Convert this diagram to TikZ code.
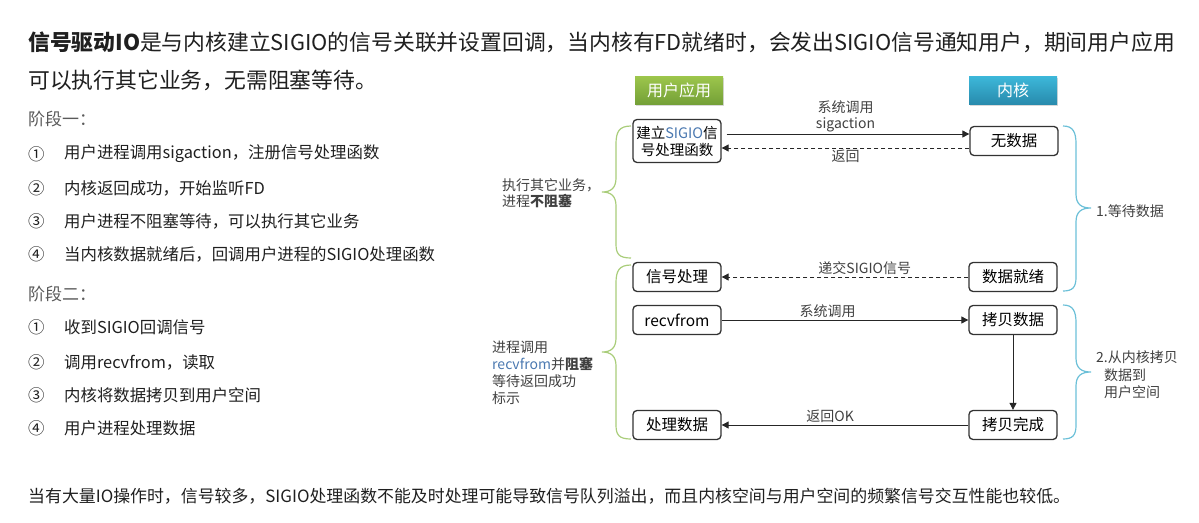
\documentclass[tikz,border=0pt]{standalone}
\usepackage{fontspec}
\setmainfont{Noto Sans CJK SC}
\usepackage{xcolor}
\usepackage{tikz}
\usetikzlibrary{positioning}
\usetikzlibrary{arrows.meta,shadows}
\definecolor{usertop}{HTML}{9DC64C}
\definecolor{userbot}{HTML}{74A037}
\definecolor{kerntop}{HTML}{3DB8DA}
\definecolor{kernbot}{HTML}{288BAD}
\definecolor{bracegreen}{HTML}{A9CD7A}
\definecolor{braceblue}{HTML}{6CC0D8}
\definecolor{labelgray}{HTML}{404040}
\definecolor{stagegray}{HTML}{5A5A5A}
\definecolor{sigblue}{HTML}{4A78B0}
\tikzset{>={Triangle[length=7pt,width=7pt]}}

\begin{document}
\begin{tikzpicture}[x=1pt,y=-1pt,
  txt/.style={inner sep=0pt, anchor=west, text=black!88},
  head/.style={minimum width=88pt, minimum height=28pt, inner sep=0pt, text=white,
    font=\fontsize{16}{18}\selectfont,
    drop shadow={opacity=0.3, shadow xshift=1pt, shadow yshift=-2pt}},
  box/.style={draw=black!80, line width=1.3pt, rounded corners=4pt, fill=white,
    minimum width=88pt, minimum height=29pt, inner sep=1pt,
    font=\fontsize{15.5}{17}\selectfont},
  lbl/.style={text=labelgray, font=\fontsize{14}{16}\selectfont, inner sep=2pt},
  link/.style={->, line width=0.9pt, black!85},
  back/.style={->, line width=0.9pt, black!85, dashed, dash pattern=on 4pt off 3pt},
  curl/.style={line width=1.2pt}]

\useasboundingbox (0,0) rectangle (1199,522);

% Intro paragraph
\node[txt, font=\fontsize{21.8}{24}\selectfont] (intro1) at (28,42)
  {\textbf{信号驱动IO}是与内核建立SIGIO的信号关联并设置回调，当内核有FD就绪时，会发出SIGIO信号通知用户，期间用户应用};
\node[txt, font=\fontsize{21.8}{24}\selectfont] (intro2) at (28,80)
  {可以执行其它业务，无需阻塞等待。};

% Stage one
\node[txt, text=stagegray, font=\fontsize{17}{19}\selectfont] (stageA) at (28,119) {阶段一：};
\node[txt, font=\fontsize{16.4}{18}\selectfont] (numA1) at (28,154) {①};
\node[txt, font=\fontsize{16.4}{18}\selectfont] (itemA1) at (64,154) {用户进程调用sigaction，注册信号处理函数};
\node[txt, font=\fontsize{16.4}{18}\selectfont] (numA2) at (28,188) {②};
\node[txt, font=\fontsize{16.4}{18}\selectfont] (itemA2) at (64,188) {内核返回成功，开始监听FD};
\node[txt, font=\fontsize{16.4}{18}\selectfont] (numA3) at (28,221) {③};
\node[txt, font=\fontsize{16.4}{18}\selectfont] (itemA3) at (64,221) {用户进程不阻塞等待，可以执行其它业务};
\node[txt, font=\fontsize{16.4}{18}\selectfont] (numA4) at (28,254) {④};
\node[txt, font=\fontsize{16.4}{18}\selectfont] (itemA4) at (64,254) {当内核数据就绪后，回调用户进程的SIGIO处理函数};

% Stage two
\node[txt, text=stagegray, font=\fontsize{17}{19}\selectfont] (stageB) at (28,294) {阶段二：};
\node[txt, font=\fontsize{16.4}{18}\selectfont] (numB1) at (28,327) {①};
\node[txt, font=\fontsize{16.4}{18}\selectfont] (itemB1) at (64,327) {收到SIGIO回调信号};
\node[txt, font=\fontsize{16.4}{18}\selectfont] (numB2) at (28,362) {②};
\node[txt, font=\fontsize{16.4}{18}\selectfont] (itemB2) at (64,362) {调用recvfrom，读取};
\node[txt, font=\fontsize{16.4}{18}\selectfont] (numB3) at (28,395) {③};
\node[txt, font=\fontsize{16.4}{18}\selectfont] (itemB3) at (64,395) {内核将数据拷贝到用户空间};
\node[txt, font=\fontsize{16.4}{18}\selectfont] (numB4) at (28,428) {④};
\node[txt, font=\fontsize{16.4}{18}\selectfont] (itemB4) at (64,428) {用户进程处理数据};

% Closing remark
\node[txt, font=\fontsize{16.9}{18}\selectfont] (remark) at (28,496)
  {当有大量IO操作时，信号较多，SIGIO处理函数不能及时处理可能导致信号队列溢出，而且内核空间与用户空间的频繁信号交互性能也较低。};

% Column headers
\node[head, top color=usertop, bottom color=userbot] (userhead) at (679,90) {用户应用};
\node[head, top color=kerntop, bottom color=kernbot] (kernhead) at (1013,90) {内核};

% User side
\node[box, minimum height=43pt, align=center, font=\fontsize{14.5}{17}\selectfont] (setup) at (677,141)
  {建立\textcolor{sigblue}{SIGIO}信\\号处理函数};
\node[box] (sighandle) at (677,277) {信号处理};
\node[box] (recv) at (677,320) {recvfrom};
\node[box] (handle) at (677,425) {处理数据};

% Kernel side
\node[box] (nodata) at (1014,141) {无数据};
\node[box] (ready) at (1013,277) {数据就绪};
\node[box] (copy) at (1013,320) {拷贝数据};
\node[box] (done) at (1013,425) {拷贝完成};

% Calls and returns
\draw[link, shorten <=5pt] ([yshift=7pt]setup.east) -- node[lbl, above, align=center]
  {系统调用\\sigaction} ([yshift=7pt]nodata.west);
\draw[back] ([yshift=-7pt]nodata.west) -- node[lbl, below] {返回} ([yshift=-7pt]setup.east);
\draw[back] (ready) -- node[lbl, above, pos=0.42] {递交SIGIO信号} (sighandle);
\draw[link] (recv) -- node[lbl, above, pos=0.43] {系统调用} (copy);
\draw[link] (copy) -- (done);
\draw[link] (done) -- node[lbl, above, pos=0.56] {返回OK} (handle);

% Braces
\draw[curl, bracegreen] (631,126) .. controls (619,126) and (616,132) .. (616,144) -- (616,178)
  .. controls (616,188) and (611,192) .. (602,192) .. controls (611,192) and (616,196) .. (616,206)
  -- (616,244) .. controls (616,254) and (619,258) .. (631,258);
\draw[curl, bracegreen] (631,265) .. controls (619,265) and (616,271) .. (616,283) -- (616,338)
  .. controls (616,348) and (611,352) .. (602,352) .. controls (611,352) and (616,356) .. (616,366)
  -- (616,425) .. controls (616,435) and (619,439) .. (631,439);
\draw[curl, braceblue] (1063,126) .. controls (1073,126) and (1076,132) .. (1076,144) -- (1076,194)
  .. controls (1076,204) and (1081,208) .. (1091,208) .. controls (1081,208) and (1076,212) .. (1076,222)
  -- (1076,277) .. controls (1076,287) and (1073,291) .. (1063,291);
\draw[curl, braceblue] (1063,305) .. controls (1073,305) and (1076,311) .. (1076,323) -- (1076,358)
  .. controls (1076,368) and (1081,372) .. (1091,372) .. controls (1081,372) and (1076,376) .. (1076,386)
  -- (1076,425) .. controls (1076,435) and (1073,439) .. (1063,439);

% Brace labels
\node[txt, text=labelgray, align=left, font=\fontsize{14}{16}\selectfont] (freeA) at (502,193)
  {执行其它业务，\\进程\textbf{不阻塞}};
\node[txt, text=labelgray, align=left, font=\fontsize{14}{17}\selectfont] (blockB) at (492,373)
  {进程调用\\\textcolor{sigblue}{recvfrom}并\textbf{阻塞}\\等待返回成功\\标示};
\node[txt, text=labelgray, font=\fontsize{14}{16}\selectfont] (waitA) at (1096,211) {1.等待数据};
\node[txt, text=labelgray, align=left, font=\fontsize{14}{17.5}\selectfont] (copyB) at (1096,375)
  {2.从内核拷贝\\\hspace*{8pt}数据到\\\hspace*{8pt}用户空间};

\end{tikzpicture}
\end{document}
